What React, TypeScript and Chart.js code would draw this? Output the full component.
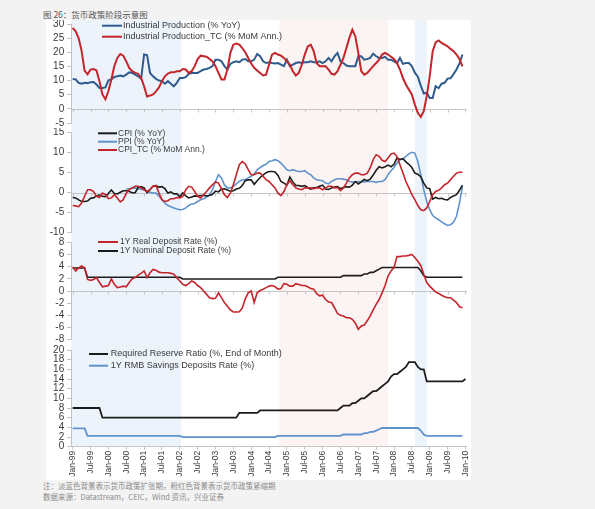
import React, { useEffect, useRef } from "react";
import { Chart, registerables } from "chart.js";
Chart.register(...registerables);

const FONT = "'Liberation Sans', Arial, sans-serif";
const CJK = "'Noto Sans CJK SC', sans-serif";

const tickLabels = ["Jan-99","Jul-99","Jan-00","Jul-00","Jan-01","Jul-01","Jan-02","Jul-02","Jan-03","Jul-03","Jan-04","Jul-04","Jan-05","Jul-05","Jan-06","Jul-06","Jan-07","Jul-07","Jan-08","Jul-08","Jan-09","Jul-09","Jan-10"];
const MONTHS_PER_TICK = 6;

// Panel 1
const ipYoY = [
  10.6,10.4,9.2,8.9,9.2,9.1,9.4,9.5,8.6,7.4,7.4,7.6,
  10.1,10.4,11.3,11.5,11.8,11.5,12.1,12.9,12.7,12.1,11.5,10.6,
  19.2,19.0,12.7,11.5,10.6,10.0,9.8,8.9,9.8,8.9,8.0,9.2,
  10.9,10.9,11.2,12.4,12.7,12.7,12.7,13.3,13.9,14.1,14.5,15.1,
  17.4,17.4,16.8,15.1,13.9,15.9,16.5,16.8,16.5,17.4,17.6,16.8,
  16.8,17.4,19.4,18.6,16.8,16.2,16.5,16.2,16.0,16.2,15.6,15.1,
  17.4,15.1,15.6,16.2,16.5,16.2,16.5,16.5,16.8,16.5,16.5,16.8,
  16.2,16.8,18.0,16.8,18.6,19.8,16.8,16.2,15.3,15.1,15.1,15.1,
  18.6,18.6,17.4,17.6,18.0,19.5,18.6,18.0,18.0,18.4,17.4,17.4,
  16.8,16.2,18.0,15.9,16.2,16.2,15.1,12.8,11.4,8.2,5.4,5.7,
  3.8,3.8,8.0,7.3,8.9,9.2,10.7,10.8,12.3,13.9,16.1,19.2
];
const ipTC = [
  28.6,27.4,25.0,20.5,13.5,12.2,13.9,14.1,13.6,9.8,5.1,3.4,
  6.2,10.4,15.1,18.0,19.4,18.8,16.8,14.5,13.3,12.7,12.4,10.9,
  8.0,4.4,4.7,5.1,6.2,7.6,9.8,11.5,12.5,12.9,12.9,13.3,
  13.3,14.1,13.9,12.7,13.3,15.1,17.6,18.8,18.6,18.4,17.6,16.8,
  15.1,12.7,10.4,10.4,13.9,19.8,22.7,23.1,22.7,21.5,20.0,18.0,
  16.0,14.5,13.6,12.7,11.8,12.1,15.6,19.2,19.8,19.2,18.8,18.0,
  16.8,15.6,13.3,11.8,12.7,15.6,19.2,22.1,22.7,20.4,16.2,15.1,
  15.1,15.1,13.9,12.4,12.1,13.3,15.6,18.0,21.5,25.1,28.0,25.6,
  19.8,13.3,12.1,12.7,13.9,15.1,16.2,17.4,19.2,19.8,19.2,18.4,
  17.6,16.2,13.9,10.9,8.6,6.8,5.1,1.5,-1.4,-2.8,-0.8,4.5,
  11.5,20.4,23.5,24.2,23.3,22.7,22.1,21.2,20.4,19.2,17.6,15.0
];

// Panel 2
const cpi = [
  -1.2,-1.3,-1.8,-2.2,-2.2,-2.1,-1.4,-1.3,-0.8,-0.6,-0.9,-1.0,
  -0.2,0.7,-0.2,-0.3,0.1,0.5,0.5,0.3,0.0,0.0,1.3,1.5,
  1.2,0.0,0.8,1.6,1.7,1.4,1.5,1.0,-0.1,0.2,-0.3,-0.3,
  -1.0,0.0,-0.8,-1.3,-1.1,-0.8,-0.9,-0.7,-0.7,-0.8,-0.7,-0.4,
  0.4,0.2,0.9,1.0,0.7,0.3,0.5,0.9,1.1,1.8,3.0,3.2,
  3.2,2.1,3.0,3.8,4.4,5.0,5.3,5.3,5.2,4.3,2.8,2.4,
  1.9,3.9,2.7,1.8,1.8,1.6,1.8,1.3,0.9,1.2,1.3,1.6,
  1.9,0.9,0.8,1.2,1.4,1.5,1.0,1.3,1.5,1.4,1.9,2.8,
  2.2,2.7,3.3,3.0,3.4,4.4,5.6,6.5,6.2,6.5,6.9,6.5,
  7.1,8.7,8.3,8.5,7.7,7.1,6.3,4.9,4.6,4.0,2.4,1.2,
  1.0,-1.6,-1.2,-1.5,-1.4,-1.7,-1.8,-1.2,-0.8,-0.5,0.6,1.9
];
const ppi = [
  null,null,null,null,null,null,null,null,null,null,null,null,
  null,null,null,null,null,null,0.9,1.0,1.1,1.2,1.0,0.9,
  0.75,0.3,0.1,-0.1,-0.1,-0.9,-1.75,-2.6,-3.2,-3.5,-3.8,-4.1,
  -4.25,-4.2,-3.8,-3.2,-2.8,-2.7,-2.2,-1.75,-1.5,-1.1,-0.5,0.75,
  2.8,4.5,3.7,2.0,1.2,1.2,1.6,2.2,2.8,3.25,3.25,3.7,
  4.1,4.7,5.75,6.3,6.8,7.1,7.8,8.0,8.25,8.0,7.4,6.6,
  5.75,5.5,5.75,5.5,5.3,5.3,5.5,4.9,4.5,3.7,3.25,3.1,
  3.0,2.4,2.2,2.8,3.25,3.5,3.5,3.4,3.25,2.8,2.7,2.6,
  2.8,2.8,2.7,2.8,2.8,2.8,2.6,2.8,2.8,3.25,4.5,5.5,
  6.3,7.4,8.25,8.4,9.1,9.7,10.1,9.9,7.8,4.5,0.75,-2.2,
  -4.25,-5.7,-6.3,-6.75,-7.3,-7.75,-8.2,-8.0,-7.4,-5.9,-2.6,1.6
];
const cpiTC = [
  -3.2,-3.3,-3.5,-2.6,-0.9,0.75,0.75,0.3,-0.9,-1.2,-0.1,-0.5,
  -1.5,-1.3,-0.5,-1.3,-2.3,-1.75,-0.1,0.75,1.2,1.6,1.6,1.2,
  0.75,0.3,0.75,1.6,1.8,-0.1,-1.75,-2.2,-2.0,-1.5,-1.5,-1.2,
  -1.3,-0.9,0.75,1.6,1.4,0.3,-0.9,-1.3,-0.5,0.3,1.2,2.0,
  2.7,2.4,1.0,-0.5,-1.2,-0.1,2.0,4.5,7.0,7.8,7.2,5.75,
  4.5,4.5,4.9,4.9,4.1,3.25,2.8,2.0,1.2,-0.1,-0.7,0.3,
  2.0,3.0,2.0,1.2,0.9,0.75,1.2,1.2,1.2,1.0,1.2,1.2,
  0.75,1.2,1.6,1.6,1.2,1.3,0.5,1.2,2.4,3.7,4.5,4.9,
  4.9,4.5,4.5,4.9,6.2,8.25,9.5,9.1,8.1,7.8,8.7,9.7,
  9.9,9.1,7.0,4.9,2.8,1.2,-0.5,-1.75,-3.2,-4.25,-4.5,-3.8,
  -2.2,-0.5,0.3,0.6,1.2,2.0,2.4,3.25,4.1,4.9,5.1,5.1
];

// Panel 3
const realDeposit = [
  3.95,3.3,3.8,4.1,3.8,1.9,1.75,1.9,2.2,1.4,0.7,0.8,
  0.9,2.0,1.1,0.55,0.65,0.8,0.7,1.4,2.0,2.2,2.6,2.9,
  3.3,2.2,3.0,3.55,3.4,3.1,3.0,3.0,3.0,2.9,2.75,2.2,
  1.65,1.1,0.9,1.2,1.65,1.4,0.9,0.55,0.0,-0.55,-1.1,-1.25,
  -1.2,-0.3,-1.1,-1.9,-2.5,-3.1,-3.45,-3.45,-3.4,-2.8,-1.3,-0.3,
  0.0,-1.9,-0.3,0.1,0.3,0.55,0.8,0.9,0.7,0.3,0.4,1.2,
  1.1,0.8,0.8,1.2,1.05,0.9,0.9,0.7,0.4,0.3,-0.45,-0.8,
  -0.7,-1.4,-1.8,-1.9,-2.75,-3.7,-4.0,-4.1,-4.4,-4.4,-4.65,-5.3,
  -6.3,-5.75,-5.6,-4.9,-4.1,-3.1,-2.2,-1.4,-0.3,0.9,2.45,3.3,
  3.85,5.65,5.65,5.75,5.75,5.85,6.0,5.5,4.9,4.2,2.75,1.4,
  0.8,0.3,-0.15,-0.4,-0.7,-0.95,-1.1,-1.1,-1.5,-1.9,-2.6,-2.75
];
const depositRate = [
  3.78,3.78,3.78,3.78,3.78,2.25,2.25,2.25,2.25,2.25,2.25,2.25,
  2.25,2.25,2.25,2.25,2.25,2.25,2.25,2.25,2.25,2.25,2.25,2.25,
  2.25,2.25,2.25,2.25,2.25,2.25,2.25,2.25,2.25,2.25,2.25,2.25,
  2.25,1.98,1.98,1.98,1.98,1.98,1.98,1.98,1.98,1.98,1.98,1.98,
  1.98,1.98,1.98,1.98,1.98,1.98,1.98,1.98,1.98,1.98,1.98,1.98,
  1.98,1.98,1.98,1.98,1.98,1.98,1.98,1.98,1.98,2.25,2.25,2.25,
  2.25,2.25,2.25,2.25,2.25,2.25,2.25,2.25,2.25,2.25,2.25,2.25,
  2.25,2.25,2.25,2.25,2.25,2.25,2.25,2.52,2.52,2.52,2.52,2.52,
  2.52,2.52,2.79,2.79,3.06,3.06,3.33,3.60,3.87,3.87,3.87,3.87,
  3.87,3.87,3.87,3.87,3.87,3.87,3.87,3.87,3.87,3.33,2.52,2.25,
  2.25,2.25,2.25,2.25,2.25,2.25,2.25,2.25,2.25,2.25,2.25,2.25
];

// Panel 4
const reserveRatio = [
  8,8,8,8,8,8,8,8,8,8,6,6,
  6,6,6,6,6,6,6,6,6,6,6,6,
  6,6,6,6,6,6,6,6,6,6,6,6,
  6,6,6,6,6,6,6,6,6,6,6,6,
  6,6,6,6,6,6,6,6,7,7,7,7,
  7,7,7,7.5,7.5,7.5,7.5,7.5,7.5,7.5,7.5,7.5,
  7.5,7.5,7.5,7.5,7.5,7.5,7.5,7.5,7.5,7.5,7.5,7.5,
  7.5,7.5,7.5,7.5,7.5,7.5,8,8.5,8.5,8.5,9,9,
  9.5,10,10,10.5,11,11.5,11.5,12,12.5,13,13.5,14.5,
  15,15,15.5,16,16.5,17.5,17.5,17.5,16.5,16,16,13.5,
  13.5,13.5,13.5,13.5,13.5,13.5,13.5,13.5,13.5,13.5,13.5,13.5,
  14
];

const easingPeriods = [[-0.5, 36.5], [115, 119]];
const tighteningPeriods = [[69.5, 106]];

const RED = "#c3252b";
const NAVY = "#2f5b8e";
const LIGHTBLUE = "#5f93cc";
const BLACK = "#1c1c1c";
const AXIS = "#c4c4c4";
const TEXT = "#3a3a3a";

const CANVAS_LEFT = 40;
const CANVAS_W = 430;
const Y_AXIS_W = 31.2;
const X_MIN = -0.5;
const X_MAX = 132.5;

const tickValues = tickLabels.map((_, i) => i * MONTHS_PER_TICK);
const pts = (arr: (number | null)[]) => arr.map((v, i) => ({ x: i, y: v }));

const bandsPlugin = {
  id: "bands",
  beforeDraw(chart: any, _a: any, opts: any) {
    const { ctx, chartArea, scales } = chart;
    const xs = scales.x;
    const bottom = opts.toAxis ? chartArea.bottom : chart.height;
    ctx.save();
    const draw = (periods: number[][], color: string) =>
      periods.forEach(([a, b]) => {
        const x1 = Math.max(xs.getPixelForValue(a), chartArea.left);
        const x2 = Math.min(xs.getPixelForValue(b), chartArea.right);
        ctx.fillStyle = color;
        ctx.fillRect(x1, 0, x2 - x1, bottom);
      });
    draw(easingPeriods, "#edf3fb");
    draw(tighteningPeriods, "#fcf3f3");
    ctx.restore();
  },
};

const zeroAxisPlugin = {
  id: "zeroAxis",
  beforeDatasetsDraw(chart: any, _a: any, opts: any) {
    if (!opts.enabled) return;
    const { ctx, chartArea, scales } = chart;
    const y0 = Math.round(scales.y.getPixelForValue(0)) + 0.5;
    ctx.save();
    ctx.strokeStyle = AXIS;
    ctx.lineWidth = 1;
    ctx.beginPath();
    ctx.moveTo(chartArea.left, y0);
    ctx.lineTo(chartArea.right, y0);
    tickValues.forEach((v) => {
      const x = Math.round(scales.x.getPixelForValue(v)) + 0.5;
      ctx.moveTo(x, y0);
      ctx.lineTo(x, y0 + 3);
    });
    ctx.stroke();
    ctx.restore();
  },
};

const legendPlugin = {
  id: "panelLegend",
  afterDraw(chart: any, _a: any, opts: any) {
    const { ctx } = chart;
    ctx.save();
    ctx.font = `${opts.fontSize || 9}px ${FONT}`;
    ctx.textBaseline = "middle";
    opts.items.forEach((it: any) => {
      const ds = chart.data.datasets[it.index];
      ctx.strokeStyle = ds.borderColor;
      ctx.lineWidth = 2;
      ctx.beginPath();
      ctx.moveTo(opts.x1, it.y);
      ctx.lineTo(opts.x2, it.y);
      ctx.stroke();
      ctx.fillStyle = TEXT;
      ctx.fillText(ds.label, opts.textX, it.y);
    });
    ctx.restore();
  },
};

function line(label: string, data: (number | null)[], color: string, width: number, order: number) {
  return {
    label,
    data: pts(data),
    borderColor: color,
    backgroundColor: color,
    borderWidth: width,
    pointRadius: 0,
    fill: false,
    tension: 0,
    spanGaps: false,
    order,
  };
}

type PanelProps = {
  top: number;
  height: number;
  padTop: number;
  padBottom: number;
  yMin: number;
  yMax: number;
  step: number;
  datasets: any[];
  legend: any;
  xAxis?: boolean;
};

function Panel(p: PanelProps) {
  const ref = useRef<HTMLCanvasElement>(null);
  useEffect(() => {
    const chart = new Chart(ref.current as HTMLCanvasElement, {
      type: "line",
      data: { datasets: p.datasets },
      plugins: [bandsPlugin, zeroAxisPlugin, legendPlugin],
      options: {
        responsive: false,
        animation: false,
        devicePixelRatio: 1,
        layout: { padding: { top: p.padTop, bottom: p.padBottom, left: 0, right: 3.1 } },
        plugins: {
          legend: { display: false },
          tooltip: { enabled: false },
          bands: { toAxis: !!p.xAxis },
          zeroAxis: { enabled: !p.xAxis },
          panelLegend: p.legend,
        } as any,
        scales: {
          x: {
            type: "linear",
            min: X_MIN,
            max: X_MAX,
            display: !!p.xAxis,
            afterBuildTicks: (s: any) => {
              s.ticks = tickValues.map((v) => ({ value: v }));
            },
            afterFit: (s: any) => {
              if (p.xAxis) s.height = 33.3;
              s.paddingLeft = 0;
              s.paddingRight = 0;
            },
            ticks: {
              autoSkip: false,
              minRotation: 90,
              maxRotation: 90,
              padding: 1,
              color: TEXT,
              font: { family: FONT, size: 8.5 },
              callback: (_v: any, i: number) => tickLabels[i],
            },
            grid: { drawOnChartArea: false, tickLength: 3, color: AXIS },
            border: { color: AXIS },
          },
          y: {
            min: p.yMin,
            max: p.yMax,
            afterFit: (s: any) => {
              s.width = Y_AXIS_W;
              s.paddingTop = 0;
              s.paddingBottom = 0;
            },
            ticks: {
              stepSize: p.step,
              autoSkip: false,
              padding: 3,
              color: TEXT,
              font: { family: FONT, size: 10 },
            },
            grid: { drawOnChartArea: false, tickLength: 4, color: AXIS },
            border: { color: AXIS },
          },
        },
      } as any,
    });
    return () => chart.destroy();
  }, []);
  return (
    <canvas
      ref={ref}
      width={CANVAS_W}
      height={p.height}
      style={{ position: "absolute", left: CANVAS_LEFT, top: p.top, width: CANVAS_W, height: p.height }}
    />
  );
}

export default function App() {
  return (
    <div style={{ position: "absolute", left: 0, top: 0, width: 595, height: 509, background: "#f3f3f3", overflow: "hidden" }}>
      <div style={{ position: "absolute", left: 46, top: 20, width: 425, height: 460, background: "#ffffff" }} />
      <div style={{ position: "absolute", left: 43, top: 8, fontFamily: CJK, fontSize: 8.5, color: "#555", whiteSpace: "nowrap", lineHeight: "12px" }}>
        图 26：货币政策阶段示意图
      </div>
      <Panel
        top={20}
        height={108}
        padTop={4}
        padBottom={5}
        yMin={-5}
        yMax={30}
        step={5}
        datasets={[
          line("Industrial Production (% YoY)", ipYoY, NAVY, 2, 1),
          line("Industrial Production_TC (% MoM Ann.)", ipTC, RED, 2, 0),
        ]}
        legend={{ x1: 62, x2: 82, textX: 83, fontSize: 9, items: [{ index: 0, y: 5.7 }, { index: 1, y: 16.7 }] }}
      />
      <Panel
        top={128}
        height={109}
        padTop={4.7}
        padBottom={4.3}
        yMin={-10}
        yMax={15}
        step={5}
        datasets={[
          line("CPI (% YoY)", cpi, BLACK, 1.6, 1),
          line("PPI (% YoY)", ppi, LIGHTBLUE, 1.6, 2),
          line("CPI_TC (% MoM Ann.)", cpiTC, RED, 1.6, 0),
        ]}
        legend={{ x1: 58, x2: 77, textX: 78, fontSize: 8.5, items: [{ index: 0, y: 5.3 }, { index: 1, y: 13.7 }, { index: 2, y: 22 }] }}
      />
      <Panel
        top={237}
        height={108}
        padTop={5.3}
        padBottom={5.3}
        yMin={-8}
        yMax={8}
        step={2}
        datasets={[
          line("1Y Real Deposit Rate (%)", realDeposit, RED, 1.6, 0),
          line("1Y Nominal Deposit Rate (%)", depositRate, BLACK, 1.6, 1),
        ]}
        legend={{ x1: 58, x2: 78, textX: 80, fontSize: 8.5, items: [{ index: 0, y: 5 }, { index: 1, y: 14 }] }}
      />
      <Panel
        top={345}
        height={135}
        padTop={5}
        padBottom={0}
        yMin={0}
        yMax={20}
        step={2}
        xAxis
        datasets={[
          line("Required Reserve Ratio (%, End of Month)", reserveRatio, BLACK, 1.8, 0),
          line("1Y RMB Savings Deposits Rate (%)", depositRate, LIGHTBLUE, 1.8, 1),
        ]}
        legend={{ x1: 49, x2: 68, textX: 70.7, fontSize: 9, items: [{ index: 0, y: 9 }, { index: 1, y: 20.7 }] }}
      />
      <div style={{ position: "absolute", left: 43, top: 480, fontFamily: CJK, fontSize: 7.5, color: "#8a8a8a", whiteSpace: "nowrap", lineHeight: "11px" }}>
        注：淡蓝色背景表示货币政策扩张期，粉红色背景表示货币政策紧缩期
        <br />
        数据来源：Datastream，CEIC，Wind 资讯，兴业证券
      </div>
    </div>
  );
}
